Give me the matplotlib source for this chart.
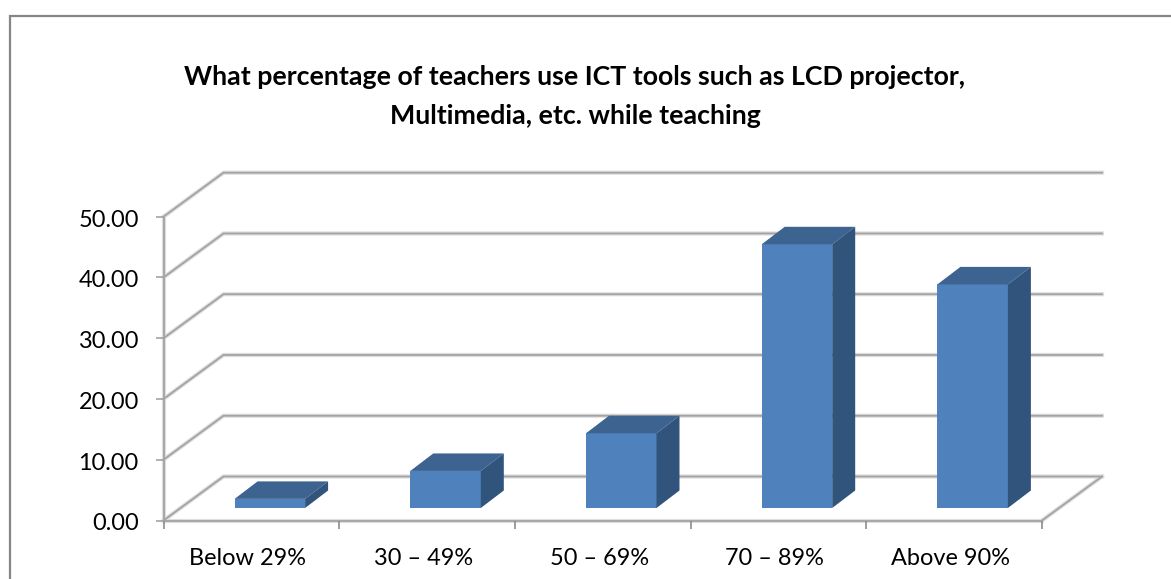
# -*- coding: utf-8 -*-
import matplotlib
matplotlib.use('Agg')
import matplotlib.pyplot as plt
from matplotlib.lines import Line2D
from matplotlib.transforms import ScaledTranslation

categories = ['Below 29%', '30 \u2013 49%', '50 \u2013 69%', '70 \u2013 89%', 'Above 90%']
values = [1.5, 6.1, 12.3, 43.4, 36.8]
y_ticks = [0, 10, 20, 30, 40, 50]
title = 'What percentage of teachers use ICT tools such as LCD projector,\nMultimedia, etc. while teaching'

W, H = 1171, 579
GRID = '#a3a3a3'
SOFT = '#dedede'
FRONT = '#4f81bd'
TOP = '#3d6391'
SIDE = '#31547c'

plt.rcParams['font.family'] = ['Lato', 'DejaVu Sans']

fig = plt.figure(figsize=(W / 100, H / 100), dpi=100)
# front plane of the fake 3d box, in pixels
left, right, y0, y50 = 163.5, 1042.0, 520.5, 216.7
ax = fig.add_axes([left / W, 1 - y0 / H, (right - left) / W, (y0 - y50) / H])
ax.set_xlim(0, 5)
ax.set_ylim(0, 50)
ax.patch.set_alpha(0)

# pixel sizes to data units
px_x = 5 / (right - left)
px_y = 50 / (y0 - y50)
depth_x, depth_y = 60 * px_x, 44 * px_y
bar_dx, bar_dy = 23 * px_x, 17.5 * px_y
off_x, off_y = 18.5 * px_x, 12.5 * px_y
bar_w = 70.5 * px_x

# outer frame, only left and top show in the crop
fig.add_artist(Line2D([9.5 / W, 9.5 / W, 1], [0, 1 - 16 / H, 1 - 16 / H], transform=fig.transFigure,
                      color='#868686', lw=1.6, solid_joinstyle='miter'))

# walls
for color, lw, z in [(SOFT, 3, 0.5), (GRID, 1.3, 1)]:
    for t in y_ticks:
        ax.plot([0, depth_x, 5 + depth_x], [t, t + depth_y, t + depth_y], color=color,
                lw=lw, clip_on=False, zorder=z, solid_joinstyle='miter')
    ax.plot([5, 5 + depth_x], [0, depth_y], color=color, lw=lw, clip_on=False, zorder=z)
    ax.plot([0, 0], [0, 50], color=color, lw=lw, clip_on=False, zorder=z)
    ax.plot([0, 5], [0, 0], color=color, lw=lw, clip_on=False, zorder=z)

# bars
xs = [i + 0.5 + off_x for i in range(len(values))]
ax.bar(xs, values, bar_w, bottom=off_y, color=FRONT, edgecolor='none', zorder=3, clip_on=False)
for x, v in zip(xs, values):
    l, r = x - bar_w / 2, x + bar_w / 2
    b, t = off_y, off_y + v
    ax.fill([l, r, r + bar_dx, l + bar_dx], [t, t, t + bar_dy, t + bar_dy], color=TOP,
            lw=0, zorder=3, clip_on=False)
    ax.fill([r, r + bar_dx, r + bar_dx, r], [b, b + bar_dy, t + bar_dy, t], color=SIDE,
            lw=0, zorder=3, clip_on=False)

for s in ax.spines.values():
    s.set_visible(False)

ax.set_yticks(y_ticks)
ax.set_yticklabels(['%.2f' % t for t in y_ticks])
ax.set_xticks(range(6))
ax.set_xticklabels([])
ax.set_xticks([i + 0.48 for i in range(5)], categories, minor=True)
ax.tick_params(axis='y', length=5.8, width=1.2, color=GRID, pad=12, labelsize=16.9, labelcolor='black')
ax.tick_params(axis='x', which='major', length=6, width=1.2, color='#8c8c8c')
ax.tick_params(axis='x', which='minor', length=0, pad=19.5, labelsize=16.9, labelcolor='black')

# y labels sit a touch below their ticks
shift = ScaledTranslation(0, -1.5 / 100, fig.dpi_scale_trans)
for lab in ax.get_yticklabels():
    lab.set_transform(lab.get_transform() + shift)

fig.text(575 / W, 1 - 96.5 / H, title, ha='center', va='center', fontsize=19.3,
         fontweight='bold', linespacing=1.75, color='black')

fig.savefig('out.png', dpi=100)
